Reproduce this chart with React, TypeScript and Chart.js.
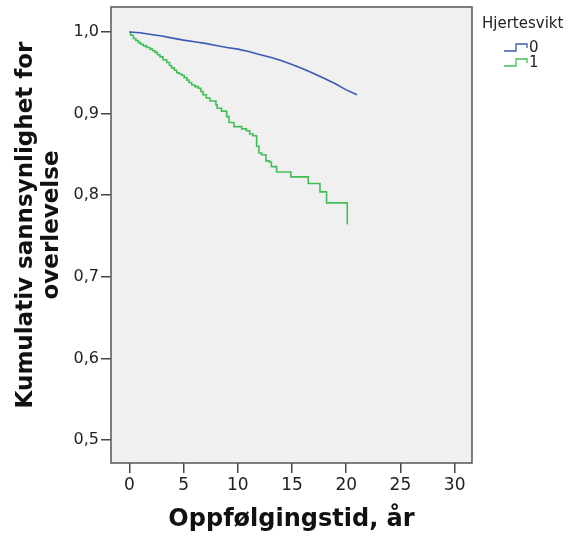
import React, { useEffect, useRef } from "react";
import { Chart, registerables } from "chart.js";

Chart.register(...registerables);

const legendTitle = "Hjertesvikt";
const seriesNames = ["0", "1"];
const xTitle = "Oppfølgingstid, år";
const yTitleLines = ["Kumulativ sannsynlighet for", "overlevelse"];
const xTicks = [0, 5, 10, 15, 20, 25, 30];
const yTicks = [0.5, 0.6, 0.7, 0.8, 0.9, 1.0];

// Group 0 (no heart failure): time (years), cumulative survival
const group0Time = [0, 1, 2, 3, 4, 5, 6, 7, 8, 9, 10, 11, 12, 13, 14, 15, 16, 17, 18, 19, 20, 21];
const group0Surv = [1.0, 0.999, 0.997, 0.995, 0.9925, 0.99, 0.988, 0.986, 0.9835, 0.981, 0.979, 0.976, 0.9725, 0.969, 0.965, 0.96, 0.955, 0.949, 0.943, 0.9365, 0.929, 0.923];

// Group 1 (heart failure): event times and survival after each step
const group1Time = [0, 0.13, 0.37, 0.6, 0.83, 1.05, 1.29, 1.6, 1.9, 2.15, 2.37, 2.6, 2.83, 3.1, 3.45, 3.7, 3.9, 4.15, 4.37, 4.6, 4.83, 5.05, 5.3, 5.5, 5.75, 6.05, 6.36, 6.6, 6.8, 7.1, 7.44, 7.99, 8.1, 8.5, 8.97, 9.19, 9.65, 10.36, 10.8, 11.1, 11.4, 11.74, 11.95, 12.2, 12.6, 12.9, 13.1, 13.58, 14.9, 16.5, 17.58, 18.19, 20.1];
const group1Surv = [1.0, 0.996, 0.992, 0.9895, 0.987, 0.985, 0.983, 0.981, 0.979, 0.977, 0.975, 0.972, 0.9695, 0.966, 0.9626, 0.959, 0.956, 0.953, 0.95, 0.9485, 0.947, 0.944, 0.941, 0.938, 0.935, 0.933, 0.931, 0.927, 0.923, 0.919, 0.9155, 0.9106, 0.9065, 0.903, 0.8963, 0.889, 0.884, 0.8813, 0.879, 0.875, 0.8728, 0.86, 0.8516, 0.8496, 0.842, 0.8406, 0.835, 0.8284, 0.8224, 0.8143, 0.804, 0.7906, 0.764];

const colors = ["#3d59b3", "#41bf57"];

const W = 569;
const H = 537;

export default function App() {
  const ref = useRef<HTMLCanvasElement | null>(null);

  useEffect(() => {
    document.body.style.margin = "0";
    document.body.style.overflow = "hidden";
    const canvas = ref.current;
    if (!canvas) return;

    const decor = {
      id: "decor",
      beforeDatasetsDraw(chart: any) {
        const { ctx, chartArea: a } = chart;
        ctx.save();
        ctx.fillStyle = "#f0f0f0";
        ctx.fillRect(a.left, a.top, a.right - a.left, a.bottom - a.top);
        ctx.restore();
      },
      afterDraw(chart: any) {
        const { ctx, chartArea: a } = chart;
        ctx.save();
        ctx.strokeStyle = "#555555";
        ctx.lineWidth = 1.5;
        ctx.strokeRect(a.left, a.top, a.right - a.left, a.bottom - a.top);

        // x title
        ctx.fillStyle = "#111";
        ctx.font = "bold 24px 'DejaVu Sans'";
        ctx.textAlign = "center";
        ctx.textBaseline = "alphabetic";
        ctx.fillText(xTitle, (a.left + a.right) / 2, 526);

        // y title (rotated)
        ctx.font = "bold 23px 'DejaVu Sans'";
        ctx.save();
        ctx.translate(0, 225);
        ctx.rotate(-Math.PI / 2);
        ctx.fillText(yTitleLines[0], 0, 32);
        ctx.fillText(yTitleLines[1], 0, 58);
        ctx.restore();

        // legend
        ctx.font = "15px 'DejaVu Sans'";
        ctx.textAlign = "left";
        ctx.fillStyle = "#222";
        ctx.fillText(legendTitle, 482, 28);
        seriesNames.forEach((name, i) => {
          const by = 51 + i * 15;
          ctx.strokeStyle = colors[i];
          ctx.lineWidth = 1.3;
          ctx.beginPath();
          ctx.moveTo(504, by);
          ctx.lineTo(516, by);
          ctx.lineTo(516, by - 7);
          ctx.lineTo(527, by - 7);
          ctx.lineTo(527, by - 3);
          ctx.stroke();
          ctx.fillStyle = "#222";
          ctx.textBaseline = "middle";
          ctx.fillText(name, 529, by - 3);
        });
        ctx.restore();
      },
    };

    const fmt = (v: number) => v.toFixed(1).replace(".", ",");

    const chart = new Chart(canvas, {
      type: "line",
      data: {
        datasets: [
          {
            label: seriesNames[0],
            data: group0Time.map((t, i) => ({ x: t, y: group0Surv[i] })),
            borderColor: colors[0],
            borderWidth: 1.6,
            pointRadius: 0,
            tension: 0,
            fill: false,
          },
          {
            label: seriesNames[1],
            data: group1Time.map((t, i) => ({ x: t, y: group1Surv[i] })),
            borderColor: colors[1],
            borderWidth: 1.6,
            pointRadius: 0,
            stepped: "before",
            fill: false,
          },
        ],
      },
      options: {
        responsive: false,
        animation: false,
        layout: { padding: { left: 0, top: 7, right: 97, bottom: 0 } },
        plugins: { legend: { display: false }, tooltip: { enabled: false } },
        scales: {
          x: {
            type: "linear",
            min: -1.69,
            max: 31.6,
            afterFit: (s: any) => {
              s.height = 74;
              s.paddingLeft = 0;
              s.paddingRight = 0;
              s.paddingTop = 0;
              s.paddingBottom = 0;
            },
            afterBuildTicks: (s: any) => {
              s.ticks = xTicks.map((v) => ({ value: v }));
            },
            ticks: {
              color: "#222",
              font: { family: "DejaVu Sans", size: 17 },
              padding: 2,
              maxRotation: 0,
              callback: (v: any) => String(v),
            },
            grid: {
              drawOnChartArea: false,
              drawTicks: true,
              tickLength: 10,
              color: "#444",
              lineWidth: 1.5,
            },
            border: { display: false },
          },
          y: {
            type: "linear",
            min: 0.4718,
            max: 1.0306,
            afterFit: (s: any) => {
              s.width = 111;
              s.paddingLeft = 0;
              s.paddingRight = 0;
              s.paddingTop = 0;
              s.paddingBottom = 0;
            },
            afterBuildTicks: (s: any) => {
              s.ticks = yTicks.map((v) => ({ value: v }));
            },
            ticks: {
              color: "#222",
              font: { family: "DejaVu Sans", size: 16 },
              padding: 2,
              callback: (v: any) => fmt(Number(v)),
            },
            grid: {
              drawOnChartArea: false,
              drawTicks: true,
              tickLength: 10,
              color: "#444",
              lineWidth: 1.5,
            },
            border: { display: false },
          },
        },
      },
      plugins: [decor],
    });

    return () => chart.destroy();
  }, []);

  return (
    <div style={{ width: W, height: H }}>
      <canvas ref={ref} width={W} height={H} style={{ width: W, height: H, display: "block" }} />
    </div>
  );
}
